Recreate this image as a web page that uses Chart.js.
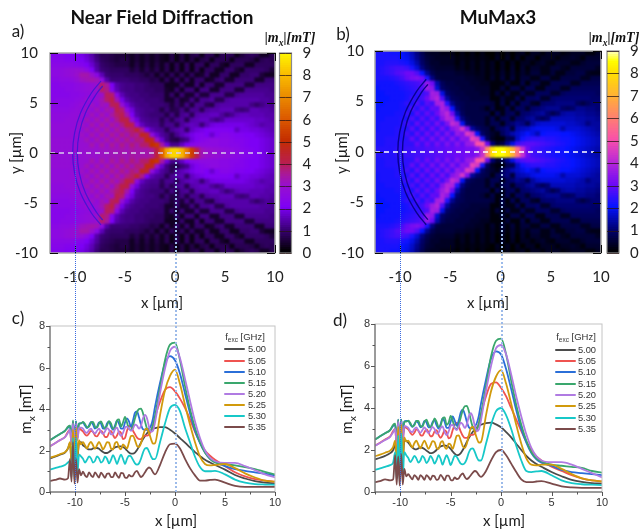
<!DOCTYPE html>
<html>
<head>
<meta charset="utf-8">
<script src="https://cdn.jsdelivr.net/npm/chart.js@4"></script>
<style>
  html, body { margin: 0; background: #fff; }
  #page { position: relative; width: 642px; height: 529px; overflow: hidden; filter: blur(0.35px); }
  canvas { position: absolute; }
  .txt { position: absolute; white-space: nowrap; transform: translate(-50%, -50%); color: #1c1c1c; }
  .txt sub { font-size: 68%; line-height: 0; }
  .guide { position: absolute; width: 0; }
  .swatch { position: absolute; height: 2px; border-radius: 1px; }
</style>
</head>
<body>
<div id="page"></div>
<script>
// line cut x positions (um), denser around the lens and the ripples
const lineX = [-12.5,-12,-11.5,-11,-10.7, -10.5,-10.35,-10.2,-10.05,-9.9,-9.75,-9.6,
  -9.4,-9.2,-9,-8.8,-8.6,-8.4,-8.2,-8,-7.8,-7.6,-7.4,-7.2,-7,-6.8,-6.6,-6.4,-6.2,-6,-5.8,-5.6,-5.4,-5.2,-5,
  -4.8,-4.6,-4.4,-4.2,-4,-3.8,-3.6,-3.4,-3.2,-3,-2.8,-2.6,-2.4,-2.2,-2,
  -1.5,-1,-0.5,0,0.5,1,1.5,2,2.5,3,3.5,4,5,6,7,8,9,10];

const freqLabels = ["5.00","5.05","5.10","5.15","5.20","5.25","5.30","5.35"];
const lineColors = ["#4b4b4b","#ef5350","#2b6fd8","#3aa76d","#b07be2","#d19a0c","#17c8c8","#7b4b4b"];

// panel c) near field diffraction
const c500 = [1.62,1.7,1.8,1.9,2.1, 2.35,1.5,2.3,1.3,2.5,1.7,2.35, 2.4,2.25,2.18,2.1,2.05,2.05,2.1,2.12,2.12,2.08,2.0,1.93,1.88,1.88,1.93,2.0,2.08,2.15,2.18,2.2,2.2,2.17,2.1,2.0,1.9,1.85,1.85,1.9,2.02,2.2,2.38,2.55,2.7,2.83,2.93,3.0,3.05,3.08, 3.13,3.13,3.0,2.82,2.6,2.38,2.15,1.92,1.73,1.55,1.42,1.3,1.08,.82,.65,.52,.45,.42];
const c505 = [2.2,2.35,2.5,2.65,2.9, 3.0,2.3,3.3,2.2,3.3,2.6,3.1, 3.0,2.92,2.78,2.72,2.82,2.95,2.9,2.72,2.68,2.82,2.95,2.85,2.65,2.65,2.85,2.95,2.75,2.6,2.72,2.92,2.85,2.55,2.6,2.95,3.18,3.15,2.95,2.78,2.62,2.55,2.55,2.65,2.72,2.72,2.78,2.95,3.25,3.6, 4.35,4.92,5.05,4.85,4.5,4.05,3.5,2.9,2.4,2.0,1.75,1.55,1.25,.95,.75,.62,.55,.5];
const c510 = [2.5,2.65,2.8,2.95,3.1, 3.2,2.4,3.4,2.3,3.4,2.7,3.3, 3.32,3.35,3.2,3.08,3.2,3.38,3.25,3.05,3.15,3.35,3.3,3.05,3.05,3.3,3.4,3.15,3.0,3.2,3.45,3.3,3.05,3.05,3.35,3.55,3.4,3.15,3.45,3.82,3.88,3.6,3.25,3.02,3.0,3.0,3.05,3.2,3.55,4.1, 5.25,6.2,6.55,6.35,5.7,4.75,3.8,2.95,2.35,1.9,1.6,1.45,1.25,1.1,1.02,.95,.88,.8];
const c515 = [2.5,2.65,2.8,2.95,3.15, 3.2,2.5,3.45,2.3,3.4,2.8,3.3, 3.3,3.38,3.28,3.12,3.15,3.35,3.38,3.15,3.1,3.3,3.4,3.2,3.05,3.2,3.42,3.3,3.05,3.1,3.45,3.5,3.15,3.35,3.62,3.35,3.05,3.0,3.2,3.55,3.85,4.0,4.02,3.8,3.4,3.05,2.92,2.98,3.2,3.65, 5.0,6.35,7.1,7.2,6.35,5.1,4.0,3.1,2.4,1.9,1.6,1.42,1.35,1.28,1.2,1.1,.97,.85];
const c520 = [2.2,2.35,2.5,2.65,2.85, 3.0,2.3,3.3,2.1,3.3,2.5,3.1, 3.1,3.05,2.9,2.85,2.98,3.05,2.9,2.82,2.95,3.05,2.9,2.8,2.92,3.08,3.0,2.78,2.8,3.02,3.1,2.85,2.7,2.85,3.1,3.15,3.05,2.95,3.05,3.25,3.2,3.05,3.2,3.55,3.72,3.55,3.15,2.9,2.95,3.35, 4.75,5.95,6.8,7.0,6.45,5.45,4.4,3.4,2.6,2.0,1.65,1.48,1.4,1.4,1.25,1.05,.85,.7];
const c525 = [1.65,1.73,1.82,1.92,2.1, 2.4,1.4,3.0,1.3,3.1,1.7,2.5, 2.3,2.4,2.25,2.1,2.3,2.42,2.25,2.08,2.25,2.42,2.25,2.05,2.2,2.4,2.38,2.1,2.05,2.35,2.42,2.15,2.05,2.3,2.2,2.1,2.4,2.7,2.72,2.5,2.22,2.17,2.35,2.7,3.0,3.05,2.85,2.55,2.33,2.35, 3.7,4.9,5.6,5.9,5.2,4.2,3.25,2.4,1.7,1.35,1.28,1.3,1.35,1.15,.9,.7,.55,.5];
const c530 = [1.08,1.15,1.22,1.3,1.42, 1.5,.7,2.6,.6,2.6,.9,1.8, 1.72,1.6,1.42,1.55,1.72,1.62,1.42,1.5,1.72,1.62,1.42,1.5,1.72,1.6,1.38,1.55,1.78,1.6,1.35,1.6,1.8,1.6,1.35,1.6,1.75,1.72,1.55,1.38,1.32,1.38,1.6,1.9,2.1,2.12,1.95,1.72,1.58,1.58, 2.4,3.3,4.05,4.2,3.9,3.1,2.4,1.7,1.2,1.0,1.0,1.02,.85,.6,.45,.38,.36,.35];
const c535 = [.54,.58,.65,.6,.66, 1.6,.5,2.4,.4,1.6,.45,1.1, .8,.98,.8,.72,.95,.8,.72,.95,.82,.7,.93,.82,.68,.88,.9,.72,.72,.95,.8,.68,.92,.9,.7,.68,.82,.75,.78,.95,1.02,.85,.72,.8,.95,1.1,1.18,1.12,.95,.85, 1.3,1.9,2.3,2.33,2.1,1.6,1.15,.8,.55,.55,.58,.6,.45,.3,.25,.25,.25,.25];

// panel d) MuMax3
const d500 = [1.55,1.63,1.72,1.85,2.0, 2.3,1.4,2.4,1.0,2.6,1.5,2.45, 2.45,2.35,2.22,2.12,2.05,2.03,2.08,2.12,2.1,2.05,1.97,1.9,1.85,1.86,1.92,2.0,2.1,2.17,2.2,2.22,2.2,2.15,2.05,1.93,1.82,1.76,1.77,1.85,2.0,2.18,2.38,2.57,2.73,2.87,2.98,3.07,3.14,3.2, 3.28,3.3,3.22,3.08,2.85,2.6,2.3,2.0,1.72,1.5,1.33,1.2,.95,.75,.58,.48,.42,.4];
const d505 = [2.2,2.35,2.5,2.65,2.9, 3.0,2.2,3.35,1.9,3.35,2.4,3.1, 3.05,2.98,2.82,2.72,2.82,2.98,2.92,2.72,2.68,2.85,2.98,2.85,2.65,2.68,2.88,2.95,2.72,2.58,2.72,2.95,2.85,2.55,2.62,2.95,3.2,3.3,3.12,2.88,2.68,2.58,2.58,2.65,2.72,2.72,2.8,3.0,3.3,3.7, 4.55,5.15,5.22,4.95,4.55,4.0,3.45,2.9,2.4,2.0,1.7,1.5,1.2,1.0,.8,.65,.55,.5];
const d510 = [2.5,2.65,2.8,2.95,3.15, 3.2,2.3,3.45,2.0,3.45,2.6,3.35, 3.38,3.38,3.22,3.1,3.22,3.38,3.28,3.08,3.15,3.38,3.32,3.08,3.08,3.32,3.42,3.18,3.02,3.22,3.5,3.35,3.05,3.05,3.35,3.6,3.4,3.15,3.4,3.8,3.92,3.7,3.35,3.08,3.02,3.05,3.12,3.3,3.65,4.2, 5.35,6.35,6.7,6.55,5.85,4.9,3.9,3.0,2.35,1.85,1.55,1.4,1.25,1.05,.95,.9,.85,.8];
const d515 = [2.5,2.65,2.8,2.95,3.2, 3.25,2.4,3.45,2.1,3.45,2.7,3.35, 3.35,3.4,3.28,3.12,3.18,3.38,3.38,3.15,3.12,3.35,3.45,3.22,3.08,3.25,3.5,3.35,3.1,3.15,3.5,3.55,3.2,3.3,3.62,3.4,3.05,3.0,3.2,3.55,3.9,4.08,4.1,3.85,3.42,3.08,2.92,3.0,3.25,3.7, 5.05,6.45,7.2,7.3,6.55,5.3,4.15,3.2,2.45,1.9,1.6,1.45,1.3,1.25,1.2,1.15,1.0,.92];
const d520 = [2.2,2.33,2.48,2.62,2.85, 3.0,2.2,3.35,1.9,3.35,2.4,3.15, 3.12,3.05,2.9,2.85,3.0,3.08,2.92,2.82,2.95,3.08,2.92,2.8,2.95,3.1,3.0,2.78,2.82,3.05,3.12,2.85,2.7,2.88,3.15,3.2,3.05,2.95,3.1,3.3,3.22,3.05,3.22,3.6,3.75,3.55,3.12,2.9,2.98,3.4, 4.8,6.0,6.85,7.0,6.55,5.6,4.55,3.6,2.75,2.1,1.7,1.5,1.42,1.42,1.3,1.1,.9,.7];
const d525 = [1.7,1.78,1.87,1.97,2.15, 2.45,1.3,3.1,1.0,3.2,1.5,2.6, 2.4,2.45,2.28,2.12,2.32,2.45,2.25,2.08,2.28,2.45,2.25,2.05,2.22,2.42,2.38,2.1,2.05,2.35,2.42,2.15,2.05,2.3,2.25,2.05,2.35,2.68,2.7,2.45,2.18,2.1,2.3,2.7,3.05,3.1,2.85,2.55,2.35,2.38, 3.65,4.8,5.5,5.8,5.15,4.2,3.2,2.3,1.6,1.3,1.27,1.3,1.3,1.1,.85,.65,.55,.5];
const d530 = [1.05,1.13,1.2,1.28,1.4, 1.9,.6,2.7,.5,2.8,.7,1.9, 1.75,1.62,1.42,1.55,1.72,1.6,1.4,1.5,1.72,1.6,1.38,1.5,1.72,1.58,1.35,1.52,1.75,1.58,1.3,1.55,1.75,1.55,1.28,1.5,1.72,1.68,1.5,1.35,1.32,1.38,1.58,1.88,2.05,2.08,1.9,1.65,1.5,1.5, 2.3,3.2,3.85,4.0,3.65,3.0,2.2,1.5,1.0,.95,.98,1.0,.8,.55,.42,.37,.35,.33];
const d535 = [.47,.52,.6,.55,.6, 1.75,.35,1.7,.3,1.8,.35,1.1, .75,.85,.72,.6,.8,.72,.58,.8,.72,.58,.8,.72,.58,.78,.75,.58,.62,.82,.7,.55,.78,.78,.58,.55,.7,.62,.65,.8,.88,.72,.62,.68,.8,.92,1.0,.95,.8,.72, 1.0,1.5,1.9,2.0,1.75,1.35,.95,.6,.47,.47,.5,.52,.4,.27,.22,.2,.2,.2];

// map cell centres (um); the field is mirror symmetric about y=0, only y>0 is read
const cellX = [-12.25,-11.75,-11.25,-10.75,-10.25,-9.75,-9.25,-8.75,-8.25,-7.75,-7.25,-6.75,-6.25,-5.75,-5.25,-4.75,-4.25,-3.75,-3.25,-2.75,-2.25,-1.75,-1.25,-0.75,-0.25,0.25,0.75,1.25,1.75,2.25,2.75,3.25,3.75,4.25,4.75,5.25,5.75,6.25,6.75,7.25,7.75,8.25,8.75,9.25,9.75];
const cellY = [9.75,9.25,8.75,8.25,7.75,7.25,6.75,6.25,5.75,5.25,4.75,4.25,3.75,3.25,2.75,2.25,1.75,1.25,0.75,0.25];

// |mx| in tenths of mT, rows follow cellY
const nfdRows = [
[22,22,22,21,21,20,19,17,14,10,7,7,6,5,5, 5,3,5,3,5,3,5,3,2,6, 2,6,2,6,7, 2,7,7,2,7, 8,7,2,5,7, 8,7,3,3,7],
[23,23,23,22,22,21,20,18,15,11,8,7,6,5,6, 6,3,5,3,5,3,5,3,2,6, 2,6,2,6,2, 6,7,2,7,7, 7,2,7,7,7, 6,3,7,8,7],
[24,24,24,24,24,23,22,20,17,13,9,8,7,6,6, 6,3,6,3,6,3,6,3,7,2, 7,2,8,2,8, 8,2,8,8,4, 2,8,8,8,3, 3,8,8,8,8],
[25,25,26,27,28,29,28,25,20,14,10,9,8,8,8, 8,5,7,4,7,4,7,3,7,2, 7,2,8,2,8, 2,8,8,3,3, 9,9,5,3,9, 9,9,9,8,5],
[25,25,26,27,28,30,33,33,30,24,15,10,9,9,9, 8,8,8,7,5,7,3,7,3,8, 3,8,3,8,3, 4,9,3,3,9, 9,3,3,9,9, 10,10,5,3,3],
[24,24,25,25,26,28,31,32,33,32,25,14,10,10,10, 10,9,9,8,8,6,7,3,8,3, 9,3,9,3,9, 9,3,4,9,10, 4,4,10,10,10, 10,4,4,10,10],
[23,23,24,24,24,25,26,27,28,30,38,34,20,14,12, 11,11,10,10,9,8,8,8,3,3, 3,9,3,3,10, 3,10,10,4,4, 11,11,11,11,5, 5,11,11,11,11],
[23,23,23,24,24,25,26,27,28,30,38,36,22,15,12, 11,11,10,10,9,9,8,8,4,3, 9,3,10,10,3, 11,11,4,4,11, 11,11,5,5,12, 12,12,12,12,11],
[23,23,23,23,24,24,25,26,27,28,30,39,38,24,15, 12,11,11,10,10,9,9,9,4,9, 3,10,4,4,11, 5,5,12,12,12, 6,6,12,13,13, 13,13,13,12,12],
[23,24,24,24,24,25,26,29,26,29,32,38,41,32,19, 14,12,11,11,10,10,10,9,4,4, 9,4,5,11,5, 12,12,13,7,7, 13,14,14,14,14, 14,14,13,13,12],
[24,24,24,24,25,26,28,26,31,27,32,30,39,40,28, 18,14,12,11,11,10,10,10,9,5, 9,5,11,5,12, 12,7,6,13,14, 14,14,14,14,14, 11,9,11,13,12],
[25,25,25,25,26,27,26,31,27,32,28,33,31,40,38, 26,18,13,12,11,11,10,6,10,6, 7,11,6,12,12, 7,13,14,14,15, 15,15,11,10,11, 15,15,14,14,13],
[26,26,26,26,27,27,30,27,32,28,33,29,34,38,40, 33,20,14,12,11,10,10,10,6,11, 6,12,13,7,14, 15,15,16,16,13, 10,12,15,16,16, 15,15,15,14,14],
[26,26,26,27,27,28,27,32,28,33,29,34,30,36,41, 41,28,18,13,12,11,11,7,11,7, 12,13,7,14,15, 16,16,13,11,13, 17,17,17,17,17, 17,16,16,15,14],
[27,27,27,27,27,28,31,28,33,29,34,30,35,31,36, 42,40,25,16,13,12,12,8,12,12, 7,13,15,16,15, 10,15,18,19,19, 19,19,19,19,18, 17,16,14,15,15],
[27,27,27,27,28,28,28,32,28,33,29,34,30,35,31, 36,38,44,36,20,15,13,12,7,12, 14,15,9,16,18, 19,20,21,21,21, 21,20,16,19,19, 18,18,17,16,15],
[27,27,27,27,28,28,31,28,33,29,34,30,35,31,36, 32,37,35,46,44,26,17,13,11,7, 12,15,17,19,21, 22,20,17,21,23, 23,22,21,21,20, 20,19,18,17,16],
[28,28,28,28,28,28,29,32,28,33,29,34,30,35,31, 36,32,37,36,48,46,30,17,11,7, 6,10,12,18,21, 23,24,25,25,24, 24,23,22,22,21, 20,20,19,18,17],
[28,28,28,28,28,29,29,29,33,29,34,30,35,31,36, 32,37,33,38,38,50,52,34,18,12, 12,16,20,23,24, 25,25,25,25,24, 24,23,23,22,21, 20,20,19,18,17],
[28,28,28,28,28,29,29,30,30,30,31,31,32,32,33, 32,34,33,33,33,35,42,60,76,84, 84,78,66,54,40, 32,30,29,28,27, 26,25,24,23,22, 21,20,19,18,17]
];
const muRows = [
[22,22,22,21,21,20,18,15,11,7,4,3,3,2,2, 2,0,2,0,2,0,2,0,0,2, 0,2,0,2,3, 0,3,3,1,3, 3,3,1,2,3, 3,3,1,1,3],
[22,22,22,22,22,20,19,16,12,8,5,4,3,3,3, 3,1,2,1,2,1,2,1,0,3, 0,3,0,3,0, 3,3,0,3,3, 3,1,3,3,4, 3,1,4,4,4],
[22,22,23,23,23,22,21,18,14,9,6,4,4,3,3, 3,1,3,1,3,1,3,1,3,0, 3,0,3,0,3, 3,1,3,4,2, 1,4,4,4,2, 2,4,5,5,5],
[22,23,24,25,26,26,25,22,17,11,7,5,4,4,4, 4,2,3,1,3,1,3,1,3,0, 3,0,4,0,4, 1,4,4,2,2, 5,5,3,2,5, 5,5,5,5,3],
[22,23,24,25,27,28,30,30,27,20,12,7,5,5,5, 5,4,4,3,3,2,3,1,3,1, 4,1,4,1,4, 2,5,5,2,2, 5,2,2,5,5, 6,6,3,2,2],
[22,22,22,23,24,26,29,31,32,30,22,11,6,5,5, 5,5,5,4,4,3,3,1,4,1, 5,1,5,1,5, 5,2,2,6,6, 2,2,6,6,6, 6,3,3,6,6],
[21,21,21,21,22,23,24,25,26,28,35,30,14,8,6, 6,5,5,5,4,4,3,3,1,1, 1,5,1,1,6, 1,6,6,2,2, 7,7,7,7,3, 3,7,7,7,7],
[20,21,21,21,21,22,23,24,25,27,36,34,17,9,7, 6,6,5,5,5,4,4,4,1,1, 5,1,6,6,2, 7,7,2,2,7, 7,7,3,3,8, 8,8,8,8,8],
[20,20,21,21,21,21,22,23,24,25,27,37,36,18,9, 7,6,6,5,5,5,4,4,1,5, 1,6,2,2,7, 3,3,8,8,8, 4,4,8,9,9, 9,9,9,9,8],
[20,20,20,21,21,21,22,25,23,26,30,36,39,27,13, 8,7,6,6,5,5,5,5,1,1, 5,2,2,7,2, 8,8,9,4,4, 9,10,10,10,10, 10,10,10,9,9],
[20,20,21,21,21,22,24,22,27,23,28,26,37,38,23, 12,8,7,6,6,6,6,6,5,1, 6,1,7,2,8, 8,4,3,9,10, 10,11,11,11,11, 8,6,8,10,10],
[20,21,21,21,21,22,22,27,23,28,24,29,28,38,34, 20,10,7,6,6,6,5,2,6,1, 2,7,2,8,8, 4,9,10,11,12, 12,12,9,8,9, 12,12,11,11,10],
[21,21,21,21,22,22,25,22,28,24,29,25,30,36,40, 30,14,8,6,6,6,6,6,1,7, 2,7,8,3,9, 10,11,12,13,10, 7,9,13,14,14, 13,13,12,12,11],
[21,21,22,22,22,23,22,27,23,28,24,29,25,33,39, 38,23,11,7,6,6,6,3,7,2, 7,8,3,9,10, 12,13,10,8,10, 15,15,15,15,15, 14,14,13,13,12],
[21,22,22,22,22,23,26,23,29,24,29,25,31,26,32, 41,38,19,9,7,6,6,3,7,7, 2,8,10,12,11, 7,13,16,17,17, 17,17,17,16,16, 15,14,11,13,13],
[21,22,22,22,23,23,23,28,23,29,24,30,25,31,26, 33,36,44,32,13,9,7,6,2,7, 9,11,5,14,15, 16,18,19,19,19, 19,18,14,17,17, 17,16,15,14,13],
[22,22,22,22,23,23,26,23,29,24,30,25,31,26,32, 27,35,33,45,42,20,9,6,4,2, 8,11,14,16,18, 20,18,15,20,21, 21,21,20,20,19, 18,17,16,15,14],
[22,22,23,23,23,23,24,29,24,30,25,31,26,32,27, 33,28,34,33,47,44,22,8,3,1, 1,7,7,16,21, 23,24,24,24,23, 23,22,21,21,20, 19,18,17,16,15],
[22,22,23,23,23,24,24,24,29,25,30,26,31,27,32, 28,33,29,35,36,50,52,30,10,4, 6,12,18,25,27, 28,28,27,26,25, 24,23,22,21,20, 19,18,17,16,15],
[23,23,23,23,24,24,25,25,26,26,27,27,28,28,29, 29,30,30,31,31,33,42,62,80,85, 85,80,70,56,42, 30,26,25,24,23, 22,21,21,20,19, 18,17,16,15,14]
];

// lens ridges seen in the maps
const ridgeOuterX = [-7.4,-8.36,-9.45,-10.04,-10.23,-10.04,-9.45,-8.36,-7.4];
const ridgeOuterY = [7.2,6,4,2,0,-2,-4,-6,-7.2];
const ridgeInnerX = [-7.23,-7.8,-8.95,-9.57,-9.77,-9.57,-8.95,-7.8,-7.23];
const ridgeInnerY = [6.7,6,4,2,0,-2,-4,-6,-6.7];

const mapXTicks = [-10,-5,0,5,10];
const mapYTicks = [-10,-5,0,5,10];
const cbarTicks = [0,1,2,3,4,5,6,7,8,9];
const lineXMinor = [-12.5,-7.5,-2.5,2.5,7.5];
const lineYMajor = [0,2,4,6,8];
const lineYMinor = [1,3,5,7];

// colour palettes: [value, r, g, b]
const nfdPalette = [[0,0,0,0],[1,58,0,118],[2,125,0,245],[2.5,140,10,225],[3,152,15,205],[3.5,170,25,150],[4,186,30,78],[5,195,45,0],[6,220,90,0],[7,235,140,0],[8,250,190,0],[9,255,250,0]];
const muPalette = [[0,0,0,0],[1,0,0,115],[2,5,20,255],[3,110,10,245],[4,185,40,215],[5,250,80,170],[6,255,130,110],[7,255,180,50],[8,255,225,0],[8.5,255,255,0],[9,255,255,230]];

function colorAt(palette, v) {
  let i = 0;
  while (i < palette.length - 2 && v > palette[i + 1][0]) i++;
  const a = palette[i], b = palette[i + 1];
  const t = Math.min(1, Math.max(0, (v - a[0]) / (b[0] - a[0])));
  return `rgb(${a[1] + (b[1] - a[1]) * t},${a[2] + (b[2] - a[2]) * t},${a[3] + (b[3] - a[3]) * t})`;
}

const page = document.getElementById("page");

function addCanvas(left, top, w, h) {
  const c = document.createElement("canvas");
  c.width = w; c.height = h;
  c.style.left = left + "px"; c.style.top = top + "px";
  page.appendChild(c);
  return c;
}

function addText(html, x, y, css, rotate) {
  const d = document.createElement("div");
  d.className = "txt";
  d.innerHTML = html;
  d.style.cssText = `left:${x}px;top:${y}px;${css}` + (rotate ? `;transform:translate(-50%,-50%) rotate(${rotate}deg)` : "");
  page.appendChild(d);
}

function addGuide(x, y1, y2, color, width) {
  const d = document.createElement("div");
  d.className = "guide";
  d.style.cssText = `left:${x}px;top:${y1}px;height:${y2 - y1}px;border-left:${width}px dotted ${color}`;
  page.appendChild(d);
}

// frame and tick marks drawn from the scales
const frameTicks = {
  id: "frameTicks",
  afterDraw(chart, args, o) {
    const { ctx, chartArea: a, scales } = chart;
    ctx.save();
    if (o.frame) {
      ctx.strokeStyle = o.frame;
      ctx.lineWidth = o.frameWidth || 1;
      ctx.strokeRect(a.left, a.top, a.right - a.left, a.bottom - a.top);
    }
    if (o.axisColor) {
      ctx.strokeStyle = o.axisColor;
      ctx.lineWidth = 1;
      ctx.beginPath();
      ctx.moveTo(a.left, a.top); ctx.lineTo(a.left, a.bottom); ctx.lineTo(a.right, a.bottom);
      ctx.stroke();
    }
    ctx.strokeStyle = o.tickColor || "#111";
    ctx.lineWidth = 1;
    ctx.beginPath();
    (o.xTicks || []).forEach(t => {
      const p = Math.round(scales.x.getPixelForValue(t[0])) + 0.5;
      ctx.moveTo(p, a.bottom);
      ctx.lineTo(p, a.bottom + (o.inside ? -t[1] : t[1]));
      if (o.inside) { ctx.moveTo(p, a.top); ctx.lineTo(p, a.top + t[1]); }
    });
    (o.yTicks || []).forEach(t => {
      const p = Math.round(scales.y.getPixelForValue(t[0])) + 0.5;
      ctx.moveTo(a.left, p);
      ctx.lineTo(a.left + (o.inside ? t[1] : -t[1]), p);
      if (o.inside) { ctx.moveTo(a.right, p); ctx.lineTo(a.right - t[1], p); }
    });
    ctx.stroke();
    ctx.restore();
  }
};

// soften the cell grid of the maps, same look as the interpolated originals
const smoothCells = {
  id: "smoothCells",
  afterDatasetDraw(chart, args) {
    if (args.meta.label !== "cells") return;
    const { ctx, canvas, chartArea: a } = chart;
    ctx.save();
    ctx.beginPath();
    ctx.rect(a.left, a.top, a.right - a.left, a.bottom - a.top);
    ctx.clip();
    ctx.filter = "blur(1.2px)";
    const w = a.right - a.left, h = a.bottom - a.top;
    ctx.drawImage(canvas, a.left, a.top, w, h, a.left, a.top, w, h);
    ctx.restore();
  }
};

function fixedAxis(size) {
  return s => {
    if (s.isHorizontal()) s.height = size; else s.width = size;
    s.paddingLeft = s.paddingRight = s.paddingTop = s.paddingBottom = 0;
  };
}

function mapChart(box, rows, palette, ridgeColor, ridgeWidth, dashColor) {
  const upper = rows.map((r, j) => r.map((v, i) => ({ x: cellX[i], y: cellY[j], v: v / 10 })));
  const lower = rows.map((r, j) => r.map((v, i) => ({ x: cellX[i], y: -cellY[j], v: v / 10 })));
  const cells = upper.flat().concat(lower.flat());
  const pts = (xs, ys) => xs.map((x, i) => ({ x: x, y: ys[i] }));
  const ridge = (xs, ys) => ({
    data: pts(xs, ys), showLine: true, tension: 0.4, pointRadius: 0, borderWidth: ridgeWidth,
    borderColor: ridgeColor, order: 2
  });
  new Chart(addCanvas(box.left, box.top, box.w, box.h), {
    type: "scatter",
    data: {
      datasets: [
        { label: "cells", data: cells, pointStyle: "rect", pointRadius: 4.4, pointBorderWidth: 0,
          pointBackgroundColor: c => colorAt(palette, c.raw.v), order: 3 },
        ridge(ridgeOuterX, ridgeOuterY),
        ridge(ridgeInnerX, ridgeInnerY),
        { data: [{ x: -12.5, y: 0 }, { x: 9.3, y: 0 }], showLine: true, pointRadius: 0, borderWidth: 1.5,
          borderColor: dashColor, borderDash: [5, 4], order: 1 }
      ]
    },
    options: {
      responsive: false, animation: false, events: [],
      layout: { padding: { top: box.pt, right: box.pr } },
      plugins: {
        legend: { display: false }, tooltip: { enabled: false },
        frameTicks: {
          frame: "#a8a8a8", frameWidth: 1.5, inside: true, tickColor: "#0a0a0a",
          xTicks: mapXTicks.map(v => [v, 8]), yTicks: mapYTicks.map(v => [v, 8])
        }
      },
      scales: {
        x: { type: "linear", min: -12.5, max: 10, grid: { display: false, drawTicks: false }, border: { display: false },
          afterFit: fixedAxis(box.axisH),
          ticks: { stepSize: 5, includeBounds: false, maxRotation: 0, autoSkip: false, padding: 15, color: "#222", font: { family: "Lato", size: 15 } } },
        y: { type: "linear", min: -10, max: 10, grid: { display: false, drawTicks: false }, border: { display: false },
          afterFit: fixedAxis(box.axisW),
          ticks: { stepSize: 5, autoSkip: false, padding: box.tickPad, color: "#222", font: { family: "Lato", size: 15 } } }
      }
    },
    plugins: [smoothCells, frameTicks]
  });
}

function colorbar(box, palette) {
  const levels = Array.from({ length: 90 }, (_, i) => i / 10);
  new Chart(addCanvas(box.left, box.top, box.w, box.h), {
    type: "bar",
    data: {
      labels: [""],
      datasets: levels.map(v => ({
        data: [[v, v + 0.15]], backgroundColor: colorAt(palette, v + 0.05),
        barPercentage: 1, categoryPercentage: 1, grouped: false
      }))
    },
    options: {
      responsive: false, animation: false, events: [],
      layout: { padding: { top: box.pt, bottom: box.pb, left: box.pl } },
      plugins: {
        legend: { display: false }, tooltip: { enabled: false },
        frameTicks: { frame: "#8a8a8a", frameWidth: 1.2, inside: true, tickColor: "rgba(40,20,20,0.75)", yTicks: cbarTicks.map(v => [v, 6]) }
      },
      scales: {
        x: { display: false },
        y: { position: "right", min: 0, max: 9, grid: { display: false, drawTicks: false }, border: { display: false },
          afterFit: fixedAxis(box.axisW),
          ticks: { stepSize: 1, autoSkip: false, padding: 11, color: "#222", font: { family: "Lato", size: 15 } } }
      }
    },
    plugins: [frameTicks]
  });
}

function lineChart(box, series) {
  new Chart(addCanvas(box.left, box.top, box.w, box.h), {
    type: "line",
    data: {
      labels: lineX,
      datasets: series.map((s, i) => ({
        label: freqLabels[i],
        data: s.map((v, k) => ({ x: lineX[k], y: v })),
        borderColor: lineColors[i], borderWidth: 1.8, pointRadius: 0, cubicInterpolationMode: "monotone",
        order: series.length - i
      }))
    },
    options: {
      responsive: false, animation: false, events: [],
      layout: { padding: { top: box.pt, right: box.pr } },
      plugins: {
        legend: { display: false }, tooltip: { enabled: false },
        frameTicks: {
          frame: "#c4c4c4", frameWidth: 1, axisColor: "#555", tickColor: "#555",
          xTicks: mapXTicks.map(v => [v, 4]).concat(lineXMinor.map(v => [v, 2.5])),
          yTicks: lineYMajor.map(v => [v, 4]).concat(lineYMinor.map(v => [v, 2.5]))
        }
      },
      scales: {
        x: { type: "linear", min: -12.5, max: 10, grid: { display: false, drawTicks: false }, border: { display: false },
          afterFit: fixedAxis(box.axisH),
          ticks: { stepSize: 5, includeBounds: false, maxRotation: 0, autoSkip: false, padding: 4, color: "#333", font: { family: "Liberation Sans", size: 11 } } },
        y: { type: "linear", min: 0, max: 8, grid: { display: false, drawTicks: false }, border: { display: false },
          afterFit: fixedAxis(box.axisW),
          ticks: { stepSize: 2, autoSkip: false, padding: 5, color: "#333", font: { family: "Liberation Sans", size: 11 } } }
      }
    },
    plugins: [frameTicks]
  });
}

function legendBlock(lineLeft, labelLeft, rowY, titleX, titleY) {
  addText("f<sub>exc</sub> [GHz]", titleX, titleY, "font:9.5px 'Liberation Sans';color:#333");
  freqLabels.forEach((t, i) => {
    const s = document.createElement("div");
    s.className = "swatch";
    s.style.cssText = `left:${lineLeft}px;top:${rowY[i] - 1}px;width:21px;background:${lineColors[i]}`;
    page.appendChild(s);
    addText(t, labelLeft + 9, rowY[i], "font:9.3px 'Liberation Sans';color:#333");
  });
}

// maps
mapChart({ left: 0, top: 40, w: 321, h: 260, pt: 13, pr: 46, axisH: 47, axisW: 50, tickPad: 12 }, nfdRows, nfdPalette, "rgba(60,20,210,0.85)", 1.2, "#d9cbee");
mapChart({ left: 321, top: 40, w: 321, h: 260, pt: 11, pr: 41, axisH: 47, axisW: 54, tickPad: 11 }, muRows, muPalette, "rgba(5,0,130,0.9)", 1.4, "#ffffff");
colorbar({ left: 270, top: 40, w: 50, h: 260, pt: 13, pb: 47, pl: 9.5, axisW: 28.5 }, nfdPalette);
colorbar({ left: 600, top: 40, w: 42, h: 260, pt: 11, pb: 47, pl: 7, axisW: 23 }, muPalette);

// line cuts
lineChart({ left: 0, top: 315, w: 321, h: 214, pt: 11, pr: 46, axisH: 37, axisW: 50 }, [c500, c505, c510, c515, c520, c525, c530, c535]);
lineChart({ left: 321, top: 315, w: 321, h: 214, pt: 9, pr: 40, axisH: 37, axisW: 54 }, [d500, d505, d510, d515, d520, d525, d530, d535]);

legendBlock(224, 248, [349, 360.5, 371.7, 382.8, 394, 405, 416, 427], 245, 336);
legendBlock(555, 578, [349.7, 361, 372.3, 383.7, 395, 406.3, 417.7, 429.3], 576, 336);

// guides linking the maps to the cuts
addGuide(75, 153, 492, "#3a6ae0", 1);
addGuide(175, 158, 492, "#9dbbea", 2);
addGuide(400, 153, 492, "#3a6ae0", 1);
addGuide(501, 158, 492, "#9dbbea", 2);

// titles and labels
const sans = "font-family:Lato;";
addText("Near Field Diffraction", 162, 16, sans + "font-weight:700;font-size:19px;color:#111");
addText("MuMax3", 498, 16, sans + "font-weight:700;font-size:19px;color:#111");
addText("a)", 18, 30, sans + "font-size:17px");
addText("b)", 343, 33, sans + "font-size:17px");
addText("c)", 18, 317, sans + "font-size:17px");
addText("d)", 340, 319, sans + "font-size:17px");
const unitCss = "font:italic 700 14px 'Liberation Serif';color:#111";
addText("|m<sub>x</sub>|[mT]", 290, 38, unitCss);
addText("|m<sub>x</sub>|[mT]", 614, 38, unitCss);
addText("y [µm]", 15, 153, sans + "font-size:15px", -90);
addText("y [µm]", 341, 153, sans + "font-size:15px", -90);
addText("x [µm]", 162, 302, sans + "font-size:15px");
addText("x [µm]", 488, 302, sans + "font-size:15px");
addText("x [µm]", 176, 520, sans + "font-size:15px");
addText("x [µm]", 504, 520, sans + "font-size:15px");
addText("m<sub>x</sub> [mT]", 25, 409, sans + "font-size:15px", -90);
addText("m<sub>x</sub> [mT]", 346, 409, sans + "font-size:15px", -90);
</script>
</body>
</html>
